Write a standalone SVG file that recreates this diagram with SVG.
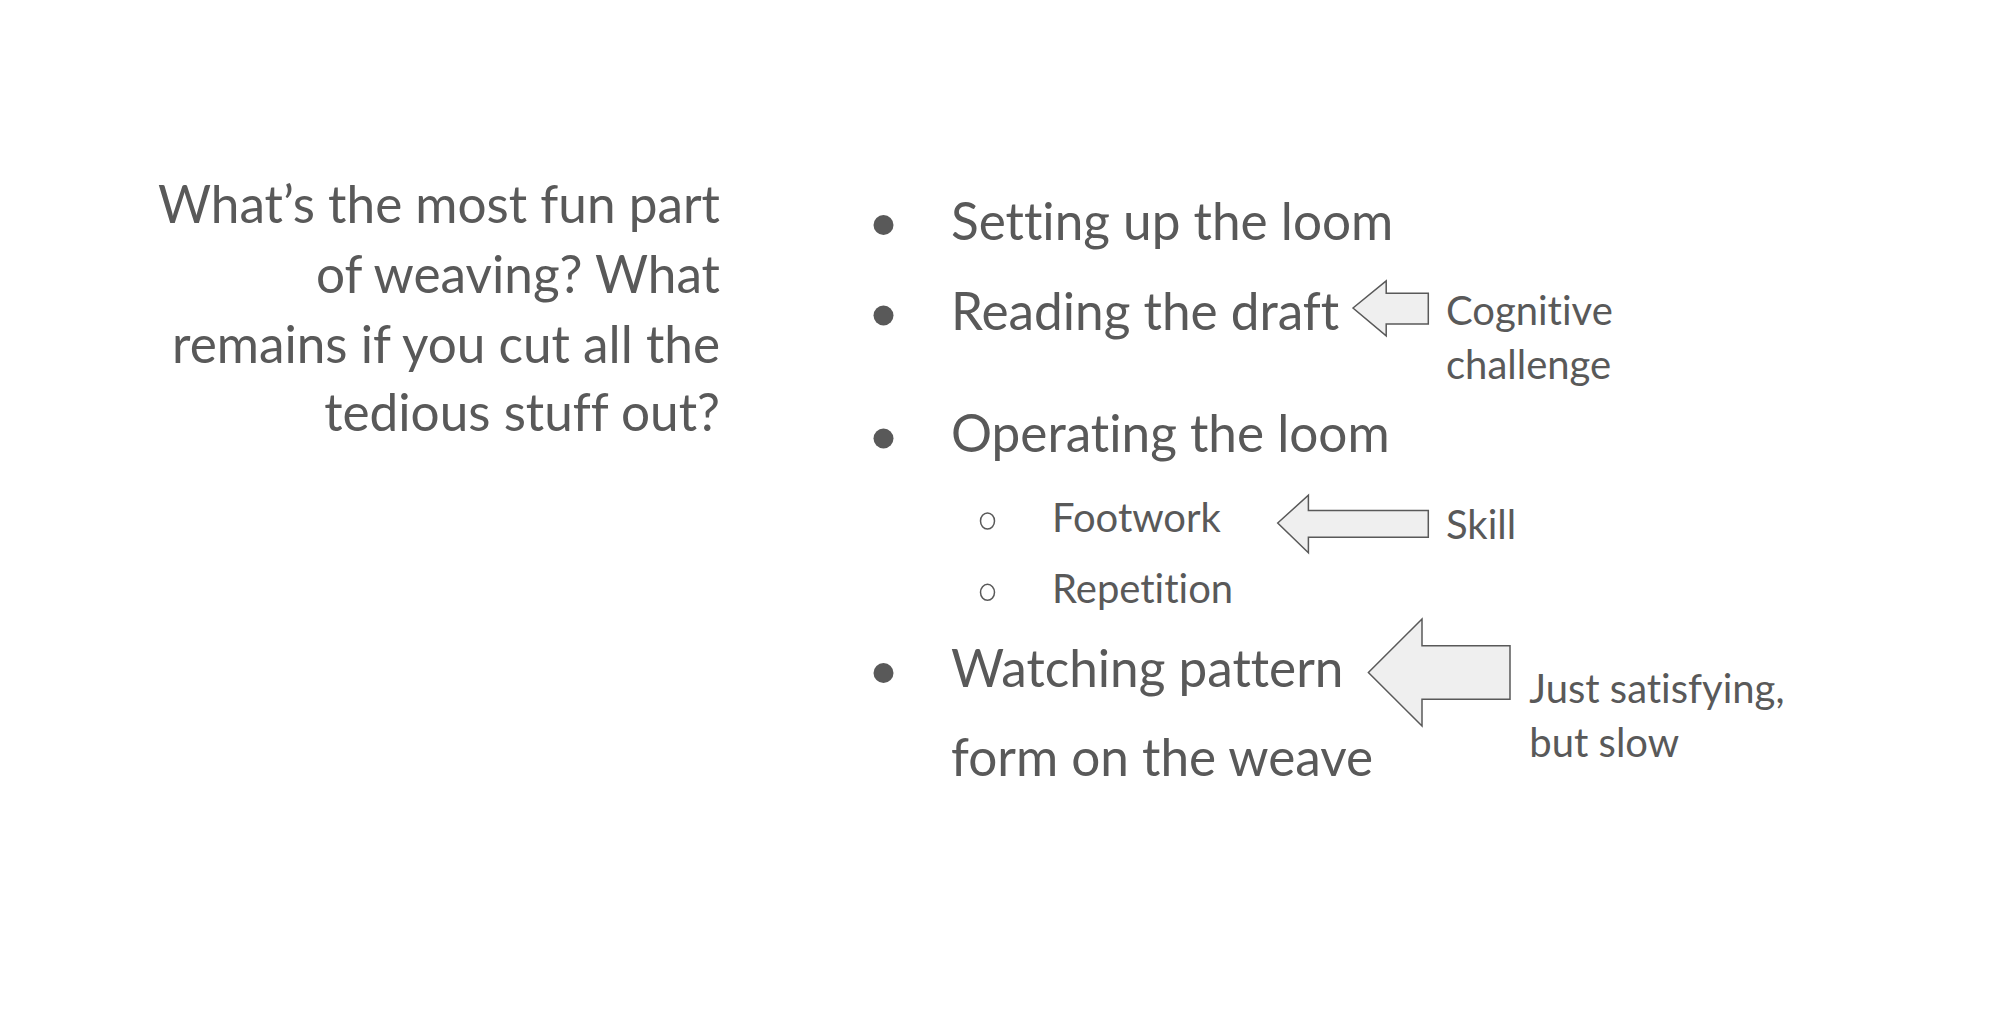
<svg xmlns="http://www.w3.org/2000/svg" width="2000" height="1034" viewBox="0 0 2000 1034">
<style>
.t{font-family:Lato,"Open Sans","Liberation Sans",sans-serif;fill:#595959;font-variant-ligatures:none;font-feature-settings:"liga" 0}
.big{font-size:51.3px}
.mid{font-size:40px}
.sm{font-size:40px}
.dot{fill:#595959}
.ring{fill:none;stroke:#595959;stroke-width:1.5}
.arrow{fill:#efefef;stroke:#595959;stroke-width:1.5}
</style>
<rect width="2000" height="1034" fill="#ffffff"/>
<g id="question" class="t big" text-anchor="end">
<text x="720" y="223">What’s the most fun part</text>
<text x="720" y="292.5">of weaving? What</text>
<text x="720" y="363">remains if you cut all the</text>
<text x="720" y="431">tedious stuff out?</text>
</g>
<g id="item-setup">
<circle class="dot" cx="883.5" cy="225" r="10"/>
<text class="t big" x="951" y="240.2">Setting up the loom</text>
</g>
<g id="item-draft">
<circle class="dot" cx="883.5" cy="315.5" r="10"/>
<text class="t big" x="951" y="329.5">Reading the draft</text>
</g>
<g id="item-operating">
<circle class="dot" cx="883.5" cy="438.5" r="10"/>
<text class="t big" x="951" y="452.2">Operating the loom</text>
</g>
<g id="item-footwork">
<ellipse class="ring" cx="987.5" cy="521" rx="7" ry="8"/>
<text class="t mid" x="1052" y="532">Footwork</text>
</g>
<g id="item-repetition">
<ellipse class="ring" cx="987.5" cy="592.3" rx="7" ry="8"/>
<text class="t mid" x="1052" y="603.2">Repetition</text>
</g>
<g id="item-watching">
<circle class="dot" cx="883.5" cy="673" r="10"/>
<text class="t big" x="951" y="686.9">Watching pattern</text>
<text class="t big" x="951" y="776.1">form on the weave</text>
</g>
<g id="label-cognitive" class="t sm">
<text x="1446" y="324.5">Cognitive</text>
<text x="1446" y="379">challenge</text>
</g>
<g id="label-skill" class="t sm">
<text x="1446" y="538.5">Skill</text>
</g>
<g id="label-satisfying" class="t sm">
<text x="1529.3" y="703">Just satisfying,</text>
<text x="1529.3" y="757.3">but slow</text>
</g>
<g id="connectors">
<polygon class="arrow" points="1353,308 1386.2,280.8 1386.2,293.2 1428.3,293.2 1428.3,323.9 1386.2,323.9 1386.2,335.8"/>
<polygon class="arrow" points="1277.7,523 1308.4,495.2 1308.4,510.6 1428.3,510.6 1428.3,537.3 1308.4,537.3 1308.4,552.7"/>
<polygon class="arrow" points="1368.4,672.5 1422,619 1422,645.8 1510,645.8 1510,699.3 1422,699.3 1422,726"/>
</g>
</svg>
